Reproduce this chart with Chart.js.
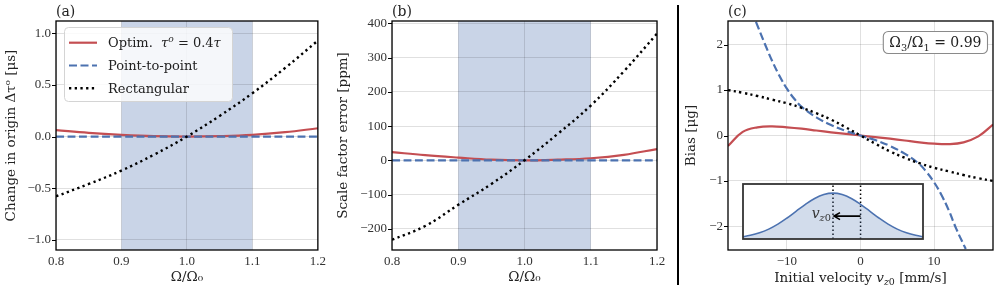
<!DOCTYPE html>
<html>
<head>
<meta charset="utf-8">
<script src="https://cdn.jsdelivr.net/npm/chart.js@4.4.0/dist/chart.umd.min.js"></script>
<style>
  html, body { margin: 0; padding: 0; background: #fff; }
  #wrap { position: relative; width: 997px; height: 291px; overflow: hidden; }
  .panel { position: absolute; }
  #sep { position: absolute; left: 677px; top: 5px; width: 2px; height: 280px; background: #000; }
</style>
</head>
<body>
<div id="wrap">
  <div class="panel" style="left:0;top:0;width:330px;height:291px"><canvas id="chartA"></canvas></div>
  <div class="panel" style="left:330px;top:0;width:340px;height:291px"><canvas id="chartB"></canvas></div>
  <div id="sep"></div>
  <div class="panel" style="left:680px;top:0;width:317px;height:291px"><canvas id="chartC"></canvas></div>
  <div class="panel" style="left:742px;top:183px;width:182px;height:57px"><canvas id="inset"></canvas></div>
</div>
<script>
// ---- data ----
const omega = [0.8, 0.85, 0.9, 0.95, 1.0, 1.05, 1.1, 1.15, 1.2];
const originOptim = [0.062, 0.036, 0.017, 0.004, 0.0, 0.004, 0.016, 0.042, 0.08];
const originP2P = [0, 0, 0, 0, 0, 0, 0, 0, 0];
const originRect = [-0.58, -0.46, -0.33, -0.175, 0.0, 0.2, 0.42, 0.665, 0.93];

const scaleOptim = [24, 15, 8, 2, 0, 2, 6, 16, 33];
const scaleP2P = [0, 0, 0, 0, 0, 0, 0, 0, 0];
const scaleRect = [-232, -192, -130, -69, 0, 77, 160, 260, 370];

const velocity = [-18, -16, -14, -12, -10, -8, -6, -4, -2, 0, 2, 4, 6, 8, 10, 12, 14, 16, 18];
const biasOptim = [-0.23, 0.08, 0.18, 0.2, 0.18, 0.15, 0.11, 0.07, 0.035, 0, -0.035, -0.07, -0.11, -0.15, -0.18, -0.19, -0.15, -0.02, 0.24];
const biasRect = [1.0, 0.94, 0.87, 0.79, 0.71, 0.61, 0.49, 0.35, 0.18, 0, -0.18, -0.35, -0.49, -0.61, -0.71, -0.79, -0.87, -0.94, -1.0];
const velocityP2P = [-14.2, -13, -12, -11, -10, -9, -8, -6, -4, -2, 0, 2, 4, 6, 8, 9, 10, 11, 12, 13, 14.3];
const biasP2P = [2.5, 2.02, 1.64, 1.31, 1.03, 0.81, 0.63, 0.4, 0.23, 0.1, 0, -0.1, -0.23, -0.4, -0.63, -0.81, -1.03, -1.31, -1.65, -2.05, -2.5];

const insetVelocity = [-16.25, -15, -13.75, -12.5, -11.25, -10, -8.75, -7.5, -6.25, -5, -3.75, -2.5, -1.25, 0, 1.25, 2.5, 3.75, 5, 6.25, 7.5, 8.75];
const insetDensity = [0.044, 0.08, 0.135, 0.216, 0.325, 0.458, 0.607, 0.755, 0.882, 0.969, 1, 0.969, 0.882, 0.755, 0.607, 0.458, 0.325, 0.216, 0.135, 0.08, 0.044];
const shiftMarks = [-3.75, 0];
const arrowY = 0.5;

const omegaTicks = [0.8, 0.9, 1.0, 1.1, 1.2];
const originTicks = [-1.0, -0.5, 0.0, 0.5, 1.0];
const scaleTicks = [-200, -100, 0, 100, 200, 300, 400];
const velocityTicks = [-10, 0, 10];
const biasTicks = [-2, -1, 0, 1, 2];
const band = [0.9, 1.1];
const seriesNames = ['Optim. \u03c4\u1d52 = 0.4\u03c4', 'Point-to-point', 'Rectangular'];

// ---- look ----
const serif = '"DejaVu Serif", serif';
const numFont = '"Liberation Serif", serif';
const red = '#c44e52', blue = '#4c72b0';

const pts = (xs, ys) => xs.map((x, i) => ({ x, y: ys[i] }));
const fmt = digits => v => (v < 0 ? '\u2212' : '') + Math.abs(v).toFixed(digits);

function series(kind, label, data) {
  const base = { label, data, pointRadius: 0, tension: 0.4, fill: false };
  if (kind === 'optim') return { ...base, borderColor: red, borderWidth: 2.2, order: 3 };
  if (kind === 'p2p') return { ...base, borderColor: blue, borderWidth: 2.2, borderDash: [8, 3.5], order: 2 };
  return { ...base, borderColor: '#000', borderWidth: 2.4, borderDash: [2.3, 3.4], order: 1 };
}

function axis(pos, min, max, ticks, digits, size, title, titlePad) {
  return {
    type: 'linear', position: pos, min, max,
    afterBuildTicks: s => { s.ticks = ticks.map(value => ({ value })); },
    afterFit: s => { if (pos === 'left') s.width = size; else s.height = size; },
    grid: { color: 'rgba(0,0,0,0.12)', lineWidth: 1, drawTicks: false },
    border: { display: false },
    ticks: {
      font: { family: numFont, size: 13 }, color: '#333', padding: pos === 'left' ? 5 : 4,
      maxRotation: 0, autoSkip: false, callback: fmt(digits)
    },
    title: title ? { display: true, text: title, color: '#222', font: { family: serif, size: 13.5 }, padding: titlePad } : { display: false }
  };
}

function drawRich(ctx, parts, x, y, size, align) {
  const fontOf = p => (p.it ? 'italic ' : '') + (p.sub || p.sup ? size * 0.7 : size) + 'px ' + serif;
  ctx.save();
  ctx.textAlign = 'left';
  ctx.textBaseline = 'alphabetic';
  let w = 0;
  parts.forEach(p => { ctx.font = fontOf(p); w += ctx.measureText(p.t).width; });
  let cx = align === 'center' ? x - w / 2 : align === 'right' ? x - w : x;
  parts.forEach(p => {
    ctx.font = fontOf(p);
    const dy = p.sub ? size * 0.25 : p.sup ? -size * 0.38 : 0;
    ctx.fillText(p.t, cx, y + dy);
    cx += ctx.measureText(p.t).width;
  });
  ctx.restore();
  return w;
}

// shading, frame, left ticks, panel letter
function decor(label, shade, extra) {
  return {
    id: 'decor',
    beforeDraw(chart) {
      if (!shade) return;
      const { ctx, chartArea: a, scales: { x } } = chart;
      const l = x.getPixelForValue(shade[0]), r = x.getPixelForValue(shade[1]);
      ctx.save();
      ctx.fillStyle = 'rgba(76,114,176,0.3)';
      ctx.fillRect(l, a.top, r - l, a.bottom - a.top);
      ctx.restore();
    },
    afterDatasetsDraw(chart) {
      const { ctx, chartArea: a, scales: { y } } = chart;
      ctx.save();
      ctx.strokeStyle = '#000';
      ctx.lineWidth = 1;
      ctx.beginPath();
      y.ticks.forEach(t => {
        const py = Math.round(y.getPixelForValue(t.value)) + 0.5;
        ctx.moveTo(a.left - 4, py); ctx.lineTo(a.left, py);
      });
      ctx.stroke();
      ctx.lineWidth = 1.3;
      ctx.strokeRect(a.left, a.top, a.right - a.left, a.bottom - a.top);
      ctx.fillStyle = '#222';
      ctx.font = '14px ' + serif;
      ctx.textBaseline = 'alphabetic';
      ctx.fillText(label, a.left, 16);
      ctx.restore();
      if (extra) extra(chart);
    }
  };
}

function drawLegend(chart) {
  const { ctx, chartArea: a } = chart;
  const bx = a.left + 8, by = a.top + 6, bw = 168, bh = 74;
  const labels = [
    [{ t: 'Optim.  ' }, { t: '\u03c4', it: true }, { t: 'o', it: true, sup: true }, { t: ' = 0.4' }, { t: '\u03c4', it: true }],
    [{ t: seriesNames[1] }],
    [{ t: seriesNames[2] }]
  ];
  ctx.save();
  ctx.beginPath();
  ctx.roundRect(bx + 0.5, by + 0.5, bw, bh, 4);
  ctx.fillStyle = 'rgba(255,255,255,0.82)';
  ctx.fill();
  ctx.strokeStyle = '#d4d4d4';
  ctx.lineWidth = 1;
  ctx.stroke();
  chart.data.datasets.forEach((ds, i) => {
    const yy = by + 15.7 + i * 22.8;
    ctx.beginPath();
    ctx.setLineDash(ds.borderDash || []);
    ctx.strokeStyle = ds.borderColor;
    ctx.lineWidth = ds.borderWidth;
    ctx.moveTo(bx + 5, yy); ctx.lineTo(bx + 33, yy);
    ctx.stroke();
    ctx.setLineDash([]);
    ctx.fillStyle = '#222';
    drawRich(ctx, labels[i], bx + 44, yy + 4.6, 13, 'left');
  });
  ctx.restore();
}

function drawBiasExtras(chart) {
  const { ctx, chartArea: a } = chart;
  ctx.save();
  ctx.fillStyle = '#222';
  drawRich(ctx, [{ t: 'Initial velocity ' }, { t: 'v', it: true }, { t: 'z', it: true, sub: true }, { t: '0', sub: true }, { t: ' [mm/s]' }],
    (a.left + a.right) / 2, 282, 13.5, 'center');
  const ann = [{ t: '\u03a9' }, { t: '3', sub: true }, { t: '/\u03a9' }, { t: '1', sub: true }, { t: ' = 0.99' }];
  ctx.globalAlpha = 0;
  const w = drawRich(ctx, ann, 0, 0, 14, 'left');
  ctx.globalAlpha = 1;
  const bw = w + 12, bh = 22, bx = a.right - 6 - bw, by = a.top + 10;
  ctx.beginPath();
  ctx.roundRect(bx + 0.5, by + 0.5, bw, bh, 5);
  ctx.fillStyle = '#fff';
  ctx.fill();
  ctx.strokeStyle = '#8a8a8a';
  ctx.lineWidth = 1.1;
  ctx.stroke();
  ctx.fillStyle = '#222';
  drawRich(ctx, ann, bx + 6.5, by + 16, 14, 'left');
  ctx.restore();
}

Chart.defaults.animation = false;
const common = { responsive: true, maintainAspectRatio: false, plugins: { legend: { display: false }, tooltip: { enabled: false } } };

// (a)
new Chart(document.getElementById('chartA'), {
  type: 'line',
  data: {
    datasets: [
      series('optim', seriesNames[0], pts(omega, originOptim)),
      series('p2p', seriesNames[1], pts(omega, originP2P)),
      series('rect', seriesNames[2], pts(omega, originRect))
    ]
  },
  options: {
    ...common,
    layout: { padding: { top: 21, right: 9, left: 0, bottom: 0 } },
    scales: {
      x: axis('bottom', 0.8, 1.2, omegaTicks, 1, 41, '\u03a9/\u03a9\u2080', { bottom: 5 }),
      y: axis('left', -1.1, 1.12, originTicks, 1, 56, 'Change in origin \u0394\u03c4\u1d52 [\u03bcs]', { top: 3 })
    }
  },
  plugins: [decor('(a)', band, drawLegend)]
});

// (b)
new Chart(document.getElementById('chartB'), {
  type: 'line',
  data: {
    datasets: [
      series('optim', seriesNames[0], pts(omega, scaleOptim)),
      series('p2p', seriesNames[1], pts(omega, scaleP2P)),
      series('rect', seriesNames[2], pts(omega, scaleRect))
    ]
  },
  options: {
    ...common,
    layout: { padding: { top: 21, right: 13, left: 0, bottom: 0 } },
    scales: {
      x: axis('bottom', 0.8, 1.2, omegaTicks, 1, 41, '\u03a9/\u03a9\u2080', { bottom: 5 }),
      y: axis('left', -262, 407, scaleTicks, 0, 62, 'Scale factor error [ppm]', { top: 5 })
    }
  },
  plugins: [decor('(b)', band)]
});

// (c)
new Chart(document.getElementById('chartC'), {
  type: 'line',
  data: {
    datasets: [
      series('optim', seriesNames[0], pts(velocity, biasOptim)),
      series('p2p', seriesNames[1], pts(velocityP2P, biasP2P)),
      series('rect', seriesNames[2], pts(velocity, biasRect))
    ]
  },
  options: {
    ...common,
    layout: { padding: { top: 21, right: 4, left: 0, bottom: 0 } },
    scales: {
      x: axis('bottom', -18, 18, velocityTicks, 0, 41, null),
      y: axis('left', -2.52, 2.52, biasTicks, 0, 48, 'Bias [\u03bcg]', { top: 3 })
    }
  },
  plugins: [decor('(c)', null, drawBiasExtras)]
});

// inset: velocity distribution and its shift
const insetPlugin = {
  id: 'insetDecor',
  beforeDraw(chart) {
    const { ctx, width, height } = chart;
    ctx.save();
    ctx.fillStyle = '#fff';
    ctx.fillRect(0, 0, width, height);
    ctx.restore();
  },
  afterDatasetsDraw(chart) {
    const { ctx, chartArea: a, scales: { x, y } } = chart;
    const x0 = x.getPixelForValue(shiftMarks[1]), x1 = x.getPixelForValue(shiftMarks[0]);
    const ay = y.getPixelForValue(arrowY);
    ctx.save();
    ctx.strokeStyle = '#000';
    ctx.lineWidth = 1.6;
    ctx.beginPath();
    ctx.moveTo(x0, ay); ctx.lineTo(x1 + 1, ay);
    ctx.moveTo(x1 + 7, ay - 3.5); ctx.lineTo(x1 + 1, ay); ctx.lineTo(x1 + 7, ay + 3.5);
    ctx.stroke();
    ctx.fillStyle = '#333';
    drawRich(ctx, [{ t: 'v', it: true }, { t: 'z', it: true, sub: true }, { t: '0', sub: true }], x1 - 2, ay + 1.5, 14, 'right');
    ctx.strokeStyle = '#333';
    ctx.lineWidth = 1.8;
    ctx.strokeRect(a.left, a.top, a.right - a.left, a.bottom - a.top);
    ctx.restore();
  }
};

new Chart(document.getElementById('inset'), {
  type: 'line',
  data: {
    datasets: [
      {
        data: pts(insetVelocity, insetDensity), borderColor: blue, borderWidth: 1.6,
        backgroundColor: 'rgba(76,114,176,0.25)', fill: 'origin', pointRadius: 0, tension: 0.4
      },
      ...shiftMarks.map(m => ({
        data: [{ x: m, y: 0 }, { x: m, y: 1.2 }], borderColor: '#000', borderWidth: 1.5,
        borderDash: [1.6, 2.4], pointRadius: 0, fill: false
      }))
    ]
  },
  options: {
    ...common,
    layout: { padding: 1 },
    scales: {
      x: { type: 'linear', display: false, min: -16, max: 8.5 },
      y: { type: 'linear', display: false, min: 0, max: 1.2 }
    }
  },
  plugins: [insetPlugin]
});
</script>
</body>
</html>
